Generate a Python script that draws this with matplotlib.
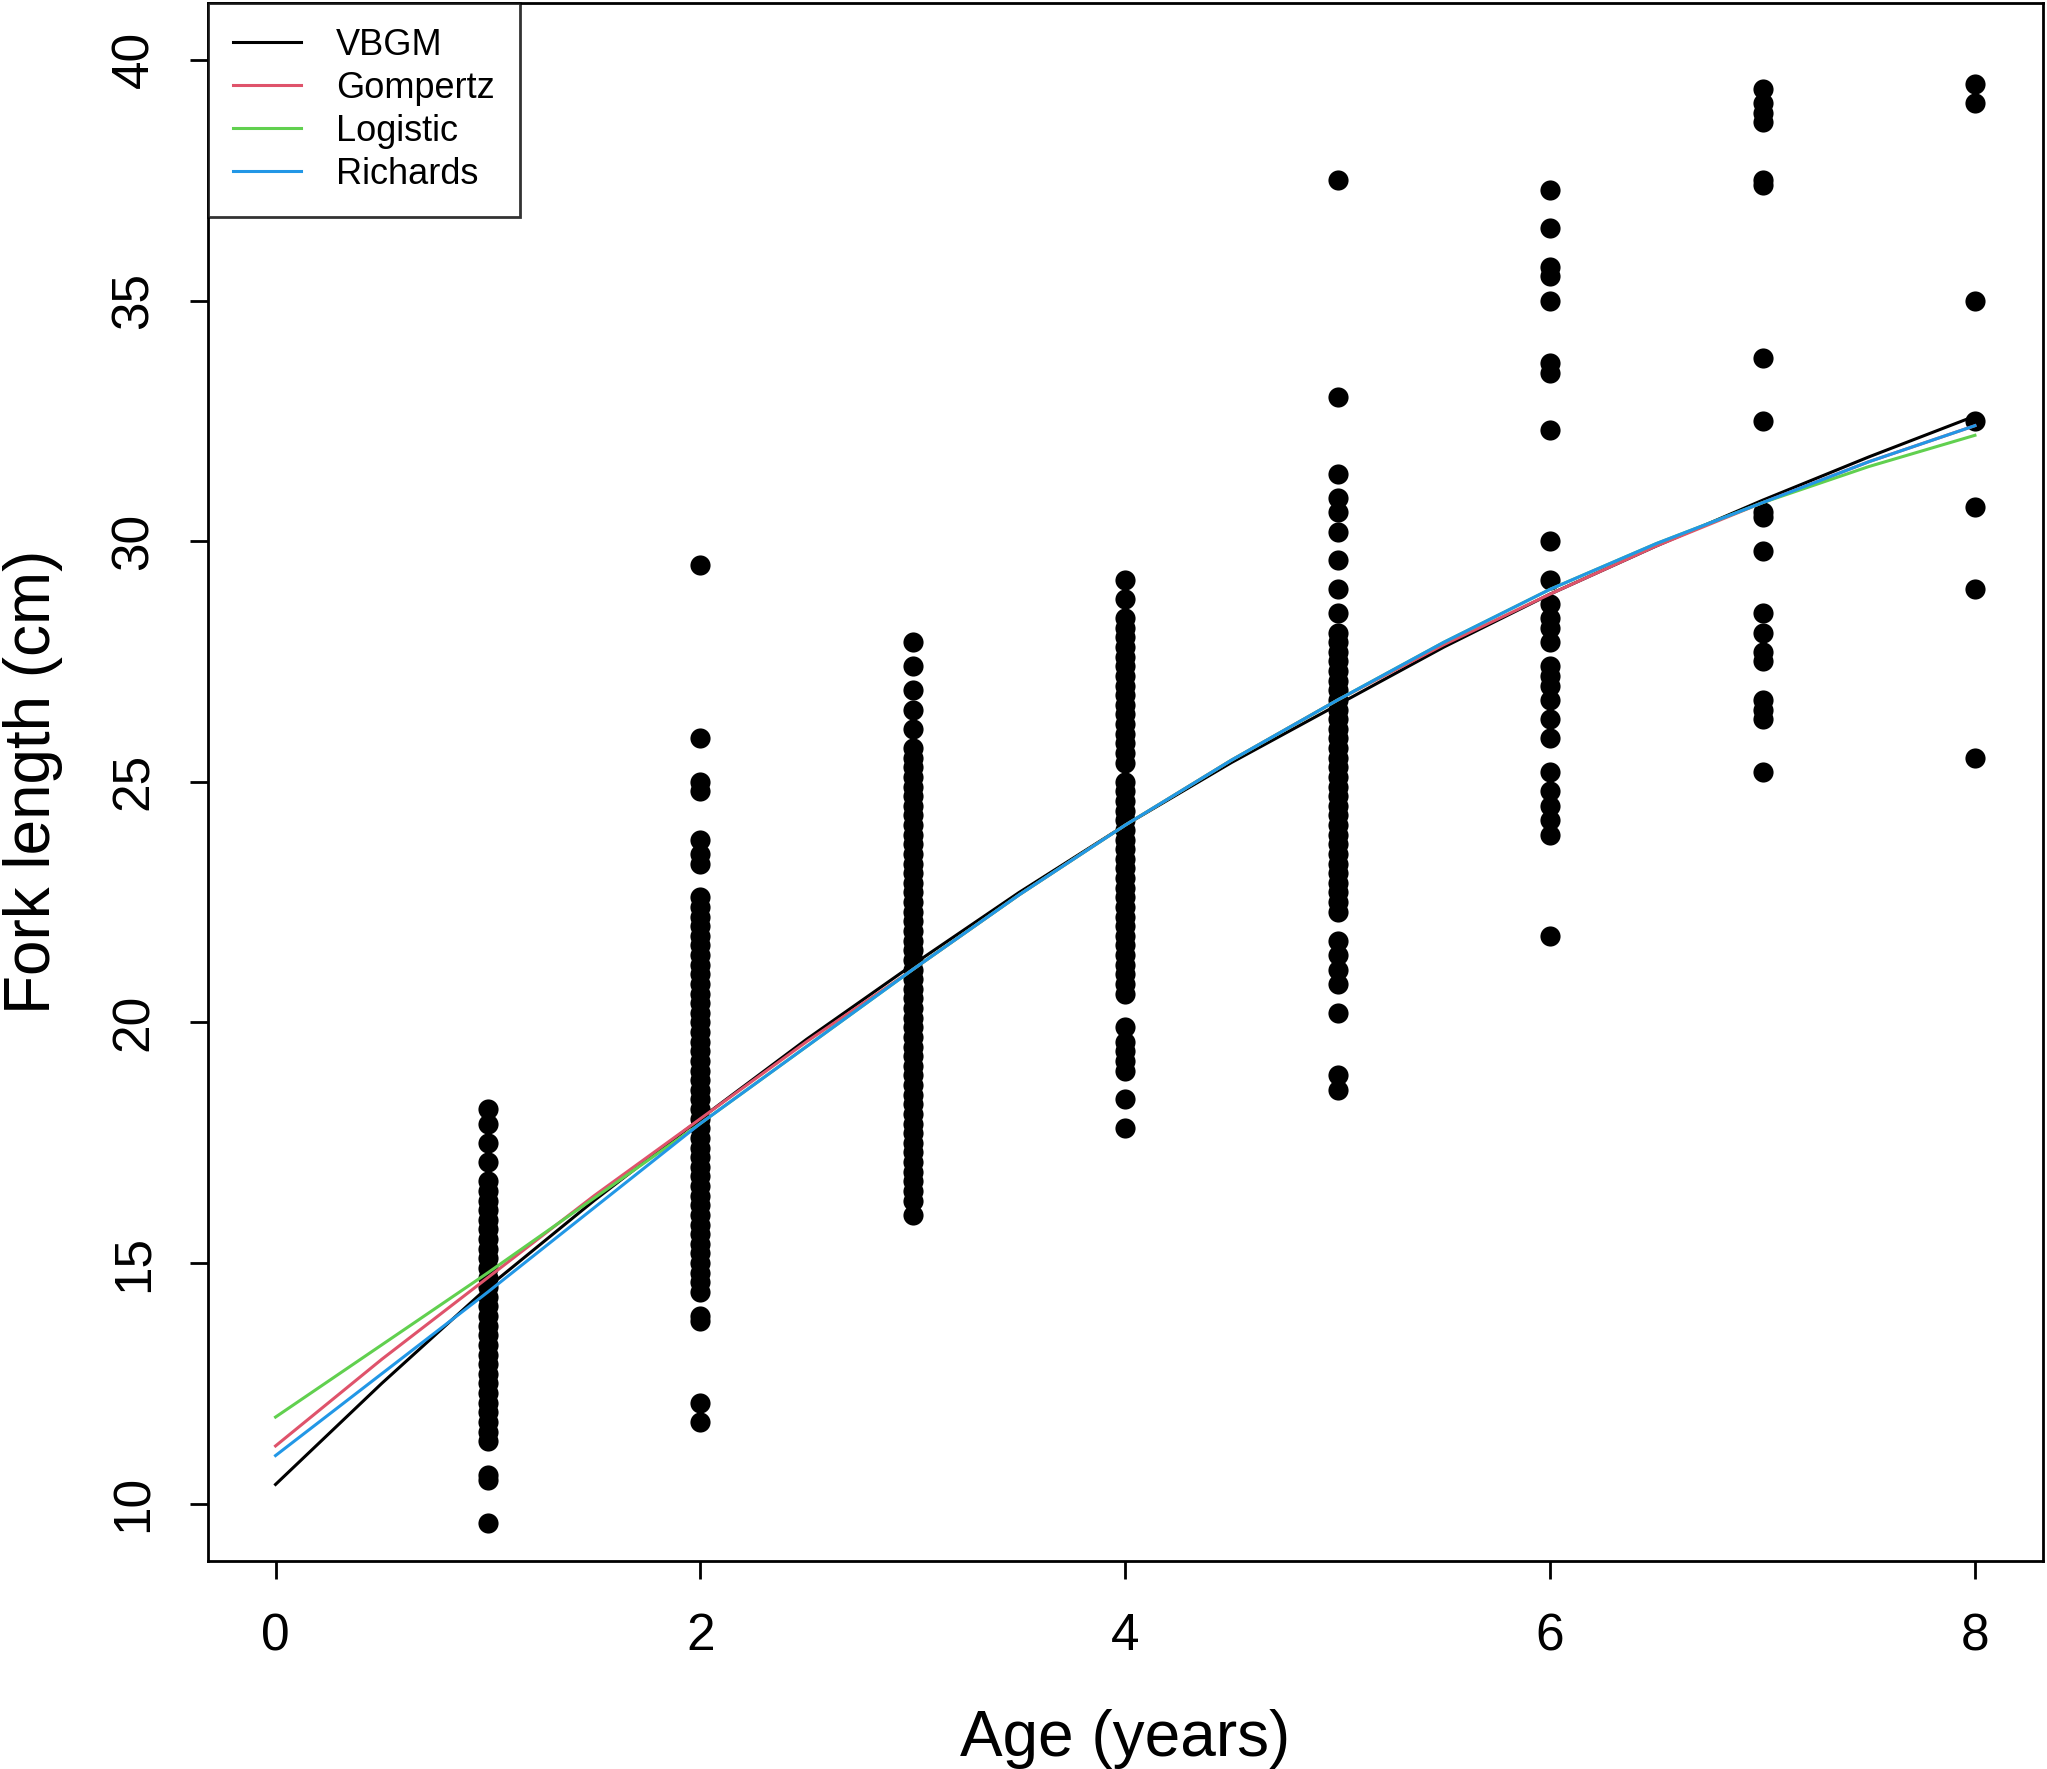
import numpy as np
import matplotlib
matplotlib.use("Agg")
import matplotlib.pyplot as plt

plt.rcParams['font.family'] = ['Liberation Sans', 'DejaVu Sans']

age1 = [9.6, 10.5, 10.6, 11.3, 11.5, 11.7, 11.9, 12.1, 12.3, 12.5, 12.7, 12.9, 13.1, 13.3,
        13.5, 13.7, 13.9, 14.1, 14.3, 14.5, 14.7, 14.9, 15.1, 15.3, 15.5, 15.7, 15.9, 16.1,
        16.3, 16.5, 16.7, 17.1, 17.5, 17.9, 18.2]
age2 = [11.7, 12.1, 13.8, 13.9, 14.4, 14.6, 14.8, 15.0, 15.2, 15.4, 15.6, 15.8, 16.0, 16.2,
        16.4, 16.6, 16.8, 17.0, 17.2, 17.4, 17.6, 17.8, 18.0, 18.2, 18.4, 18.6, 18.8, 19.0,
        19.2, 19.4, 19.6, 19.8, 20.0, 20.2, 20.4, 20.6, 20.8, 21.0, 21.2, 21.4, 21.6, 21.8,
        22.0, 22.2, 22.4, 22.6, 23.3, 23.5, 23.8, 24.8, 25.0, 25.9, 29.5]
age3 = [16.0, 16.3, 16.5, 16.7, 16.9, 17.1, 17.3, 17.5, 17.7, 17.9, 18.1, 18.3, 18.5, 18.7,
        18.9, 19.1, 19.3, 19.5, 19.7, 19.9, 20.1, 20.3, 20.5, 20.7, 20.9, 21.1, 21.3, 21.5,
        21.7, 21.9, 22.1, 22.3, 22.5, 22.7, 22.9, 23.1, 23.3, 23.5, 23.7, 23.9, 24.1, 24.3,
        24.5, 24.7, 24.9, 25.1, 25.3, 25.5, 25.7, 26.1, 26.5, 26.9, 27.4, 27.9]
age4 = [17.8, 18.4, 19.0, 19.2, 19.4, 19.6, 19.9, 20.6, 20.8, 21.0, 21.2, 21.4, 21.6, 21.8,
        22.0, 22.2, 22.4, 22.6, 22.8, 23.0, 23.2, 23.4, 23.6, 23.8, 24.0, 24.2, 24.4, 24.6,
        24.8, 25.0, 25.4, 25.6, 25.8, 26.0, 26.2, 26.4, 26.6, 26.8, 27.0, 27.2, 27.4, 27.6,
        27.8, 28.0, 28.2, 28.4, 28.8, 29.2]
age5 = [18.6, 18.9, 20.2, 20.8, 21.1, 21.4, 21.7, 22.3, 22.5, 22.7, 22.9, 23.1, 23.3, 23.5,
        23.7, 23.9, 24.1, 24.3, 24.5, 24.7, 24.9, 25.1, 25.3, 25.5, 25.7, 25.9, 26.1, 26.3,
        26.5, 26.7, 26.9, 27.1, 27.3, 27.5, 27.7, 27.9, 28.1, 28.5, 29.0, 29.6, 30.2, 30.6,
        30.9, 31.4, 33.0, 37.5]
age6 = [21.8, 23.9, 24.2, 24.5, 24.8, 25.2, 25.9, 26.3, 26.7, 27.0, 27.2, 27.4, 27.9, 28.2,
        28.4, 28.7, 29.2, 30.0, 32.3, 33.5, 33.7, 35.0, 35.5, 35.7, 36.5, 37.3]
age7 = [25.2, 26.3, 26.5, 26.7, 27.5, 27.7, 28.1, 28.5, 29.8, 30.5, 30.6, 32.5, 33.8, 37.4,
        37.5, 38.7, 38.9, 39.1, 39.4]
age8 = [25.5, 29.0, 30.7, 32.5, 35.0, 39.1, 39.5]

# fitted growth curves, values read at half-year steps
t_fit = [0, 0.5, 1, 1.5, 2, 2.5, 3, 3.5, 4, 4.5, 5, 5.5, 6, 6.5, 7, 7.5, 8]
vbgm = [10.4, 12.5, 14.5, 16.3, 18.0, 19.65, 21.2, 22.7, 24.1, 25.4, 26.6, 27.8, 28.9, 29.9, 30.85, 31.75, 32.6]
gompertz = [11.2, 13.0, 14.7, 16.4, 18.0, 19.6, 21.1, 22.65, 24.1, 25.45, 26.7, 27.85, 28.9, 29.9, 30.8, 31.65, 32.4]
logistic = [11.8, 13.3, 14.8, 16.35, 17.9, 19.5, 21.1, 22.65, 24.1, 25.45, 26.7, 27.9, 29.0, 29.95, 30.8, 31.55, 32.2]
richards = [11.0, 12.7, 14.4, 16.15, 17.9, 19.5, 21.1, 22.65, 24.1, 25.45, 26.7, 27.9, 29.0, 29.95, 30.8, 31.65, 32.4]

fig = plt.figure(figsize=(20.47, 17.69), dpi=100)
ax = fig.add_axes([0.1014, 0.1176, 0.8966, 0.8809])

for a, ys in zip(range(1, 9), [age1, age2, age3, age4, age5, age6, age7, age8]):
    ax.plot([a] * len(ys), ys, 'o', color='black', markersize=14.5, markeredgewidth=0)

ax.plot(t_fit, vbgm, color='black', lw=2.2, label='VBGM')
ax.plot(t_fit, gompertz, color='#DF536B', lw=2.2, label='Gompertz')
ax.plot(t_fit, logistic, color='#61D04F', lw=2.2, label='Logistic')
ax.plot(t_fit, richards, color='#2297E6', lw=2.2, label='Richards')

ax.set_xlim(-0.32, 8.32)
ax.set_ylim(8.81, 41.19)
ax.set_xticks([0, 2, 4, 6, 8])
ax.set_yticks([10, 15, 20, 25, 30, 35, 40])
ax.tick_params(axis='both', length=13, width=2, labelsize=37)
ax.tick_params(axis='x', pad=24)
ax.tick_params(axis='y', pad=22)
for lab in ax.get_yticklabels():
    lab.set_rotation(90)
    lab.set_va('center')
for s in ax.spines.values():
    s.set_linewidth(2)

ax.set_xlabel('Age (years)', fontsize=46, labelpad=34)
ax.set_ylabel('Fork length (cm)', fontsize=46, labelpad=34)

leg = ax.legend(loc='upper left', fontsize=26, frameon=True, fancybox=False,
                edgecolor='black', borderaxespad=0, handlelength=1.9,
                handletextpad=0.95, labelspacing=0.22, borderpad=0.7)
leg.get_frame().set_linewidth(2)

fig.savefig('out.png', dpi=100)
